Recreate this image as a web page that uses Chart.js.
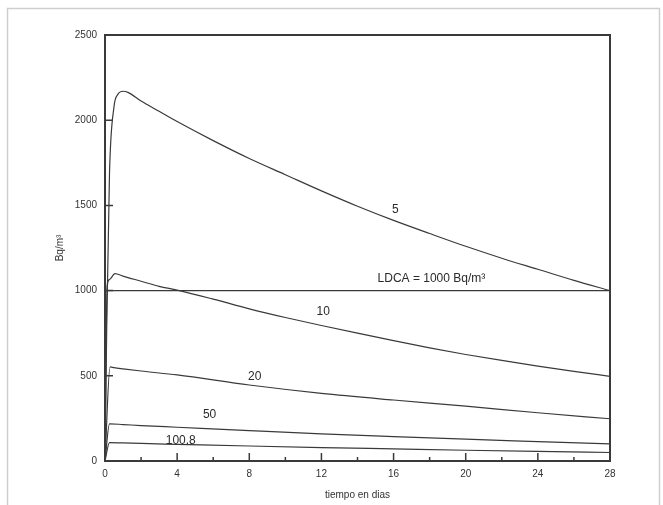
<!DOCTYPE html>
<html>
<head>
<meta charset="utf-8">
<script src="https://cdn.jsdelivr.net/npm/chart.js@4"></script>
<style>
  html, body { margin: 0; padding: 0; background: #fff; }
  #wrap { width: 663px; height: 505px; }
</style>
</head>
<body>
<div id="wrap"><canvas id="chart" width="663" height="505"></canvas></div>
<script>
// Concentración en el recinto (Bq/m3) para cada tasa de ventilación
const days5 = [ 0, 0.1, 0.25, 0.5, 0.7, 1, 1.3, 2, 3, 4, 6, 8, 10, 12, 14, 16, 18, 20, 22, 24, 26, 28 ];
const vals5 = [ 0, 820, 1690, 2080, 2150, 2170, 2162, 2112, 2052, 1992, 1880, 1775, 1680, 1585, 1495, 1412, 1335, 1260, 1190, 1125, 1060, 1000 ];

const days10 = [ 0, 0.12, 0.25, 0.55, 1, 2, 3, 4, 6, 8, 10, 12, 14, 16, 18, 20, 22, 24, 26, 28 ];
const vals10 = [ 0, 1030, 1065, 1100, 1085, 1055, 1025, 1003, 950, 893, 842, 795, 750, 706, 664, 625, 590, 557, 526, 497 ];

const days20 = [ 0, 0.28, 0.5, 1, 2, 4, 8, 12, 16, 20, 24, 28 ];
const vals20 = [ 0, 552, 548, 541, 528, 505, 446, 397, 358, 322, 283, 248 ];

const days50 = [ 0, 0.25, 1, 2, 4, 8, 12, 16, 20, 24, 28 ];
const vals50 = [ 0, 218, 214, 208, 198, 178, 159, 143, 128, 114, 100 ];

const days100 = [ 0, 0.25, 1, 2, 4, 8, 12, 16, 20, 24, 28 ];
const vals100 = [ 0, 108, 106, 103, 98, 88, 79, 71, 63, 56, 50 ];

// Límite derivado de concentración en aire
const ldcaDays = [ 0, 28 ];
const ldcaVals = [ 1000, 1000 ];

// Rótulos sobre las curvas: texto, día y valor donde van centrados
const curveLabels = [ "5", "10", "LDCA = 1000 Bq/m³", "20", "50", "100.8" ];
const labelDays = [ 16.1, 12.1, 18.1, 8.3, 5.8, 4.2 ];
const labelVals = [ 1473, 874, 1068, 493, 270, 117 ];

const xTicks = [ 0, 4, 8, 12, 16, 20, 24, 28 ];
const xMinorTicks = [ 2, 6, 10, 14, 18, 22, 26 ];
const yTicks = [ 0, 500, 1000, 1500, 2000, 2500 ];

const INK = "#3a3a3a";
const FONT = "'Liberation Sans', Arial, sans-serif";

function toPoints( xs, ys ) {
  return xs.map( ( x, i ) => ( { x: x, y: ys[ i ] } ) );
}

function curve( xs, ys ) {
  return {
    data: toPoints( xs, ys ),
    borderColor: INK,
    borderWidth: 1.2,
    pointRadius: 0,
    cubicInterpolationMode: "monotone",
    fill: false
  };
}

// Marco, marcas hacia dentro y rótulos de las curvas
const framePlugin = {
  id: "frame",
  beforeDraw( chart ) {
    let ctx = chart.ctx;
    ctx.save();
    ctx.fillStyle = "#fff";
    ctx.fillRect( 0, 0, chart.width, chart.height );
    ctx.strokeStyle = "#cfcfcf";
    ctx.lineWidth = 1.5;
    ctx.strokeRect( 7.5, 8.5, 652, 520 );
    ctx.restore();
  },
  afterDatasetsDraw( chart ) {
    let ctx = chart.ctx;
    let area = chart.chartArea;
    let xs = chart.scales.x;
    let ys = chart.scales.y;

    ctx.save();
    ctx.strokeStyle = INK;
    ctx.lineWidth = 1.5;
    ctx.beginPath();
    xTicks.forEach( ( t ) => {
      let px = xs.getPixelForValue( t );
      ctx.moveTo( px, area.bottom );
      ctx.lineTo( px, area.bottom - 8 );
    } );
    xMinorTicks.forEach( ( t ) => {
      let px = xs.getPixelForValue( t );
      ctx.moveTo( px, area.bottom );
      ctx.lineTo( px, area.bottom - 4 );
    } );
    yTicks.forEach( ( t ) => {
      let py = ys.getPixelForValue( t );
      ctx.moveTo( area.left, py );
      ctx.lineTo( area.left + 8, py );
    } );
    ctx.stroke();

    ctx.lineWidth = 2;
    ctx.strokeRect( area.left, area.top, area.right - area.left, area.bottom - area.top );

    ctx.fillStyle = "#2a2a2a";
    ctx.font = "12px " + FONT;
    ctx.textAlign = "center";
    ctx.textBaseline = "middle";
    curveLabels.forEach( ( text, i ) => {
      ctx.fillText( text, xs.getPixelForValue( labelDays[ i ] ), ys.getPixelForValue( labelVals[ i ] ) );
    } );
    ctx.restore();
  }
};

new Chart( document.getElementById( "chart" ), {
  type: "line",
  data: {
    datasets: [
      curve( days5, vals5 ),
      curve( days10, vals10 ),
      curve( days20, vals20 ),
      curve( days50, vals50 ),
      curve( days100, vals100 ),
      curve( ldcaDays, ldcaVals )
    ]
  },
  options: {
    responsive: false,
    animation: false,
    layout: { padding: { left: 48, top: 35, right: 53, bottom: 0 } },
    plugins: { legend: { display: false }, tooltip: { enabled: false } },
    scales: {
      x: {
        type: "linear",
        min: 0,
        max: 28,
        afterBuildTicks: ( scale ) => { scale.ticks = xTicks.map( ( v ) => ( { value: v } ) ); },
        afterFit: ( scale ) => { scale.height = 44; },
        grid: { display: false, drawTicks: false },
        border: { display: false },
        ticks: { color: "#333", font: { family: FONT, size: 10 }, padding: 7, maxRotation: 0, callback: ( v ) => String( v ) },
        title: { display: true, text: "tiempo en dias", color: "#333", font: { family: FONT, size: 10 }, padding: { top: 4, bottom: 4 } }
      },
      y: {
        min: 0,
        max: 2500,
        afterBuildTicks: ( scale ) => { scale.ticks = yTicks.map( ( v ) => ( { value: v } ) ); },
        afterFit: ( scale ) => { scale.width = 57; },
        grid: { display: false, drawTicks: false },
        border: { display: false },
        ticks: { color: "#333", font: { family: FONT, size: 10 }, padding: 8, callback: ( v ) => String( v ) },
        title: { display: true, text: "Bq/m³", color: "#333", font: { family: FONT, size: 10 }, padding: { top: 6, bottom: 0 } }
      }
    }
  },
  plugins: [ framePlugin ]
} );
</script>
</body>
</html>
